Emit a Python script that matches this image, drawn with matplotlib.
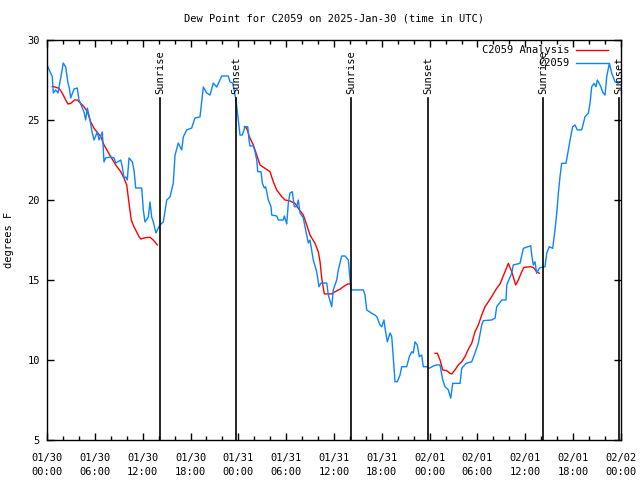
import matplotlib
matplotlib.use("Agg")
import matplotlib.pyplot as plt
import numpy as np
from datetime import datetime, timedelta

# hours since 2025-01-30 00:00 UTC
obs_hours = [0.00, 0.66, 0.79, 1.09, 1.38, 1.72, 2.04, 2.35, 2.63, 2.80, 2.97, 3.39, 3.80, 4.01,
             4.64, 4.85, 5.06, 5.39, 5.68, 5.90, 6.31, 6.52, 6.94, 7.15, 7.36, 7.99, 8.40, 8.62,
             9.25, 9.45, 9.66, 9.87, 10.07, 10.29, 10.70, 10.91, 11.13, 11.88, 12.08, 12.29, 12.71,
             12.92, 13.13, 13.33, 13.67, 13.96, 14.17, 14.59, 15.02, 15.43, 15.84, 16.06, 16.47,
             16.90, 17.10, 17.52, 18.15, 18.56, 19.19, 19.61, 20.03, 20.45, 20.86, 21.29, 21.92,
             22.74, 22.96, 23.29, 23.71, 24.00, 24.21, 24.50, 24.84, 25.18, 25.34, 25.46, 25.88,
             26.09, 26.31, 26.43, 26.85, 27.01, 27.26, 27.43, 27.76, 28.10, 28.19, 28.81, 29.02,
             29.64, 29.77, 30.07, 30.27, 30.48, 30.77, 31.02, 31.32, 31.52, 31.74, 32.15, 32.36,
             32.70, 32.78, 32.99, 33.20, 33.40, 33.83, 34.12, 34.37, 35.09, 35.29, 35.71, 35.91,
             36.34, 36.54, 36.97, 37.38, 37.80, 38.13, 39.68, 39.89, 40.10, 40.73, 41.14, 41.36,
             41.77, 41.99, 42.27, 42.40, 42.69, 43.03, 43.24, 43.44, 43.65, 43.94, 44.28, 44.49,
             45.12, 45.45, 45.75, 45.95, 46.16, 46.45, 46.70, 47.00, 47.20, 47.63, 47.96, 48.46,
             48.89, 49.30, 49.64, 49.93, 50.34, 50.64, 50.89, 51.81, 52.02, 52.56, 53.27, 53.69,
             54.10, 54.53, 54.73, 55.78, 56.20, 56.41, 57.04, 57.58, 57.67, 58.29, 58.49, 59.33,
             59.75, 60.68, 60.80, 61.00, 61.21, 61.42, 61.63, 61.84, 62.47, 62.68, 63.01, 63.43,
             63.72, 63.94, 64.14, 64.35, 64.56, 65.10, 65.39, 65.61, 65.94, 66.23, 66.52, 67.07,
             67.49, 67.90, 68.11, 68.33, 68.61, 68.87, 69.03, 69.37, 69.78, 70.00, 70.21, 70.54,
             70.84, 71.25, 71.67, 71.88]
obs_dewpt = [28.44, 27.71, 26.69, 26.88, 26.69, 27.63, 28.56, 28.31, 27.31, 27.00, 26.38, 26.94,
             27.00, 26.25, 25.50, 25.00, 25.75, 25.00, 24.19, 23.75, 24.25, 23.75, 24.25, 22.38,
             22.63, 22.69, 22.63, 22.31, 22.50, 22.06, 21.38, 21.44, 21.25, 22.63, 22.38, 21.88,
             20.75, 20.75, 19.38, 18.63, 18.94, 19.88, 18.94, 18.63, 17.94, 18.25, 18.44, 18.63,
             20.00, 20.19, 21.06, 22.81, 23.56, 23.13, 23.94, 24.38, 24.50, 25.13, 25.19, 27.06,
             26.69, 26.56, 27.31, 27.06, 27.75, 27.75, 27.38, 27.31, 26.25, 25.00, 24.06, 24.06,
             24.58, 24.58, 23.75, 23.38, 23.38, 23.02, 22.50, 21.77, 21.77, 21.06, 20.75, 20.83,
             20.00, 19.58, 19.06, 19.00, 18.75, 18.75, 19.00, 18.50, 19.81, 20.44, 20.52, 19.58,
             19.58, 20.00, 19.19, 18.88, 18.33, 17.50, 17.31, 17.50, 16.88, 16.25, 15.52, 14.58,
             14.81, 14.81, 14.06, 13.33, 14.38, 15.00, 15.63, 16.50, 16.50, 16.25, 14.38, 14.38,
             14.06, 13.13, 12.92, 12.81, 12.71, 12.19, 12.08, 12.50, 12.00, 11.14, 11.69, 11.46,
             10.13, 8.64, 8.64, 9.06, 9.58, 9.58, 10.21, 10.52, 10.44, 11.14, 10.94, 10.21, 10.31,
             9.58, 9.58, 9.48, 9.63, 9.69, 9.69, 8.75, 8.33, 8.13, 7.61, 8.54, 8.54, 9.48, 9.79,
             9.89, 10.44, 11.04, 12.19, 12.46, 12.50, 12.61, 13.33, 13.75, 13.75, 14.69, 15.42,
             15.94, 16.04, 16.98, 17.14, 16.56, 15.94, 16.14, 15.42, 15.63, 15.77, 15.83, 16.67,
             17.08, 16.98, 18.13, 19.17, 20.42, 21.46, 22.29, 22.29, 23.13, 23.75, 24.58, 24.69,
             24.38, 24.38, 25.21, 25.42, 26.04, 27.08, 27.29, 27.08, 27.50, 27.19, 26.67, 26.56,
             27.71, 28.54, 27.92, 27.39, 27.29, 27.39]

# analysis series, three pieces (gaps between them)
ana1_hours = [0.66, 0.88, 1.51, 1.92, 2.35, 2.63, 2.97, 3.47, 3.80, 4.23, 4.64, 5.06, 5.48, 5.90,
              6.74, 7.15, 7.99, 8.62, 9.25, 9.66, 10.00, 10.29, 10.57, 10.91, 11.54, 11.75, 12.29,
              12.92, 13.33, 13.84]
ana1_dewpt = [27.08, 27.08, 26.98, 26.67, 26.25, 26.00, 26.04, 26.25, 26.25, 26.04, 25.83, 25.52,
              24.89, 24.48, 23.96, 23.44, 22.71, 22.19, 21.77, 21.36, 20.94, 19.79, 18.75, 18.33,
              17.71, 17.56, 17.64, 17.67, 17.50, 17.19]
ana2_hours = [24.75, 25.05, 25.46, 25.88, 26.31, 26.72, 27.35, 27.97, 28.39, 28.81, 29.44, 29.86,
              30.48, 31.11, 31.52, 32.15, 32.58, 32.99, 33.62, 34.03, 34.25, 34.46, 34.78, 35.71,
              36.13, 36.75, 37.17, 37.72, 38.13]
ana2_dewpt = [24.58, 24.48, 23.86, 23.44, 22.81, 22.19, 21.98, 21.77, 21.14, 20.63, 20.21, 20.00,
              19.94, 19.79, 19.48, 19.06, 18.44, 17.81, 17.29, 16.77, 16.14, 15.11, 14.13, 14.13,
              14.27, 14.42, 14.58, 14.75, 14.75]
ana3_hours = [48.67, 48.96, 49.30, 49.64, 50.14, 50.55, 50.77, 51.18, 51.59, 52.02, 52.43, 52.85,
              53.27, 53.69, 54.10, 54.53, 54.94, 55.36, 55.78, 56.41, 56.82, 57.45, 57.87, 58.29,
              58.79, 59.12, 59.55, 59.84, 60.59, 61.00, 61.42, 61.75]
ana3_dewpt = [10.42, 10.42, 10.00, 9.38, 9.33, 9.17, 9.13, 9.38, 9.69, 9.89, 10.21, 10.67, 11.04,
              11.77, 12.19, 12.81, 13.33, 13.64, 13.96, 14.48, 14.75, 15.52, 16.04, 15.52, 14.69,
              15.00, 15.52, 15.79, 15.83, 15.79, 15.52, 15.42]

sun_hours = [14.17, 23.71, 38.13, 47.80, 62.22, 71.76]
sun_labels = ["Sunrise", "Sunset", "Sunrise", "Sunset", "Sunrise", "Sunset"]

start = datetime(2025, 1, 30)
tick_hours = list(range(0, 73, 6))

mono = "DejaVu Sans Mono"
fs = 7.5

fig = plt.figure(figsize=(6.4, 4.8), dpi=100)
ax = fig.add_axes([47 / 640, 40 / 480, 574 / 640, 400 / 480])

red = "#ff0000"
blue = "#0a84ff"

ax.plot(ana1_hours, ana1_dewpt, color=red, lw=1.0, label="C2059 Analysis")
ax.plot(ana2_hours, ana2_dewpt, color=red, lw=1.0)
ax.plot(ana3_hours, ana3_dewpt, color=red, lw=1.0)
ax.plot(obs_hours, obs_dewpt, color=blue, lw=1.0, label="C2059")

for h, lab in zip(sun_hours, sun_labels):
    ax.plot([h, h], [5, 26.4], color="black", lw=1.2)
    ax.text(h, 26.6, lab, rotation=90, ha="center", va="bottom",
            family=mono, fontsize=fs)

ax.set_xlim(0, 72)
ax.set_ylim(5, 30)
ax.set_xticks(tick_hours)
ax.set_xticklabels([(start + timedelta(hours=h)).strftime("%m/%d\n%H:%M") for h in tick_hours],
                   family=mono, fontsize=fs, linespacing=1.6)
ax.set_xticks(np.arange(0, 73, 2), minor=True)
ax.set_yticks([5, 10, 15, 20, 25, 30])
ax.set_yticklabels(["5", "10", "15", "20", "25", "30"], family=mono, fontsize=fs)
ax.tick_params(direction="in", top=True, right=True, length=5, width=1, pad=5)
ax.tick_params(axis="x", pad=9)
ax.tick_params(which="minor", direction="in", top=True, length=3, width=1)
for s in ax.spines.values():
    s.set_linewidth(1.0)

ax.set_ylabel("degrees F", family=mono, fontsize=fs)
ax.yaxis.set_label_coords(-0.058, 0.5)
ax.set_title("Dew Point for C2059 on 2025-Jan-30 (time in UTC)", family=mono,
             fontsize=fs, pad=13)

leg = ax.legend(loc="upper right", bbox_to_anchor=(0.993, 1.01), frameon=False,
                markerfirst=False, prop={"family": mono, "size": fs},
                handlelength=3.0, handletextpad=0.7, labelspacing=0.3)

fig.savefig("out.png", dpi=100)
